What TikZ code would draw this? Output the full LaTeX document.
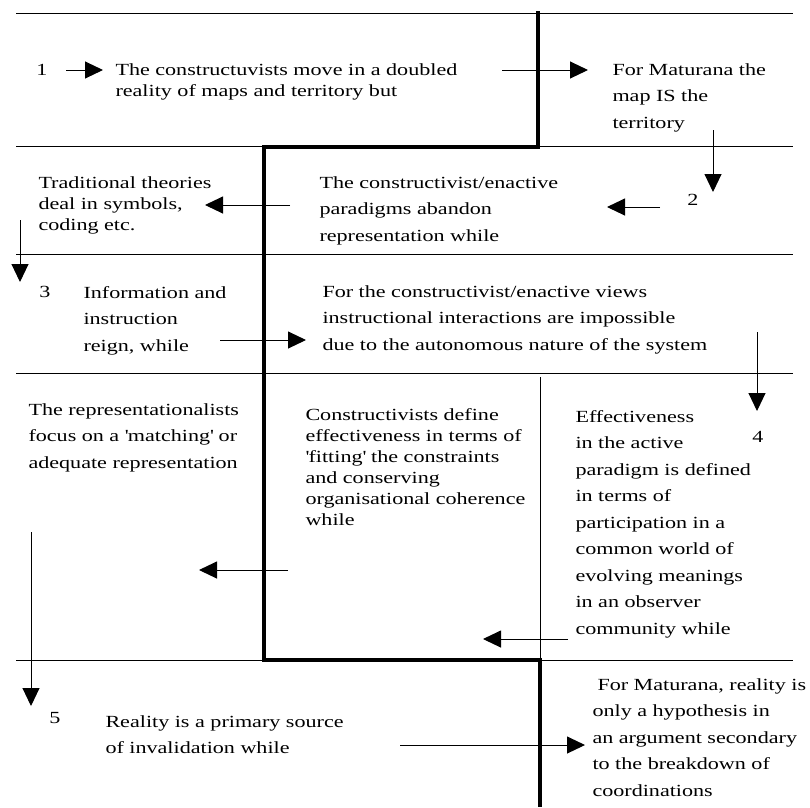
\documentclass[tikz,border=0pt]{standalone}
\usepackage{fontspec}
\setmainfont{Liberation Serif}[FakeStretch=1.3]
\usetikzlibrary{arrows.meta}

\tikzset{
  txt/.style={anchor=north west, inner sep=0pt, align=left, font=\fontsize{17}{21}\selectfont},
  loose/.style={txt, font=\fontsize{17}{26.5}\selectfont},
  num/.style={inner sep=0pt, font=\fontsize{17}{21}\selectfont},
  rule/.style={line width=1pt},
  wall/.style={line width=3.8pt},
}

\begin{document}
\begin{tikzpicture}[x=1pt, y=-1pt, line width=1pt, >={Triangle[length=18pt,width=17pt]}]
 \useasboundingbox (0,0) rectangle (810,807);
 % rows and the dividing wall
 \foreach \y in {13,146,254,373,660} \draw[rule] (16,\y) -- (793,\y);
 \draw[rule] (540,377) -- (540,660);
 \draw[wall] (538,11) -- (538,147) -- (264,147) -- (264,660) -- (540,660) -- (540,807);

 \node[num] (n1) at (42,70) {1};
 \node[num] (n2) at (693,200) {2};
 \node[num] (n3) at (45,292) {3};
 \node[num] (n4) at (758,437) {4};
 \node[num] (n5) at (55,718) {5};

 \node[txt] (doubled) at (115,63) {The constructuvists move in a doubled\\reality of maps and territory but};
 \node[loose] (mapis) at (612,63) {For Maturana the\\map IS the\\territory};
 \node[txt] (symbols) at (38,176) {Traditional theories\\deal in symbols,\\coding etc.};
 \node[loose] (abandon) at (319,176) {The constructivist/enactive\\paradigms abandon\\representation while};
 \node[loose] (reign) at (83,286) {Information and\\instruction\\reign, while};
 \node[loose] (autonomous) at (322,285) {For the constructivist/enactive views\\instructional interactions are impossible\\due to the autonomous nature of the system};
 \node[loose] (matching) at (28,403) {The representationalists\\focus on a \textquotesingle matching\textquotesingle{} or\\adequate representation};
 \node[txt] (fitting) at (305,408) {Constructivists define\\effectiveness in terms of\\\textquotesingle fitting\textquotesingle{} the constraints\\and conserving\\organisational coherence\\while};
 \node[loose] (observer) at (575,410) {Effectiveness\\in the active\\paradigm is defined\\in terms of\\participation in a\\common world of\\evolving meanings\\in an observer\\community while};
 \node[loose] (invalid) at (105,715) {Reality is a primary source\\of invalidation while};
 \node[loose] (hypothesis) at (592,678) {\hspace{5pt}For Maturana, reality is\\only a hypothesis in\\an argument secondary\\to the breakdown of\\coordinations};

 \coordinate (a1) at (66,70);   \coordinate (b1) at (103,70);
 \coordinate (a2) at (502,70);  \coordinate (b2) at (588,70);
 \coordinate (a3) at (713,130); \coordinate (b3) at (713,192);
 \coordinate (a4) at (660,207); \coordinate (b4) at (607,207);
 \coordinate (a5) at (290,205); \coordinate (b5) at (205,205);
 \coordinate (a6) at (20,220);  \coordinate (b6) at (20,282);
 \coordinate (a7) at (220,340); \coordinate (b7) at (306,340);
 \coordinate (a8) at (757,332); \coordinate (b8) at (757,411);
 \coordinate (a9) at (568,639); \coordinate (b9) at (483,639);
 \coordinate (a10) at (288,570); \coordinate (b10) at (199,570);
 \coordinate (a11) at (31,532); \coordinate (b11) at (31,706);
 \coordinate (a12) at (400,745); \coordinate (b12) at (585,745);

 \path[->]
 (a1) edge (b1)   (a2) edge (b2)   (a3) edge (b3)
 (a4) edge (b4)   (a5) edge (b5)   (a6) edge (b6)
 (a7) edge (b7)   (a8) edge (b8)   (a9) edge (b9)
 (a10) edge (b10) (a11) edge (b11) (a12) edge (b12)
 ;
\end{tikzpicture}
\end{document}
